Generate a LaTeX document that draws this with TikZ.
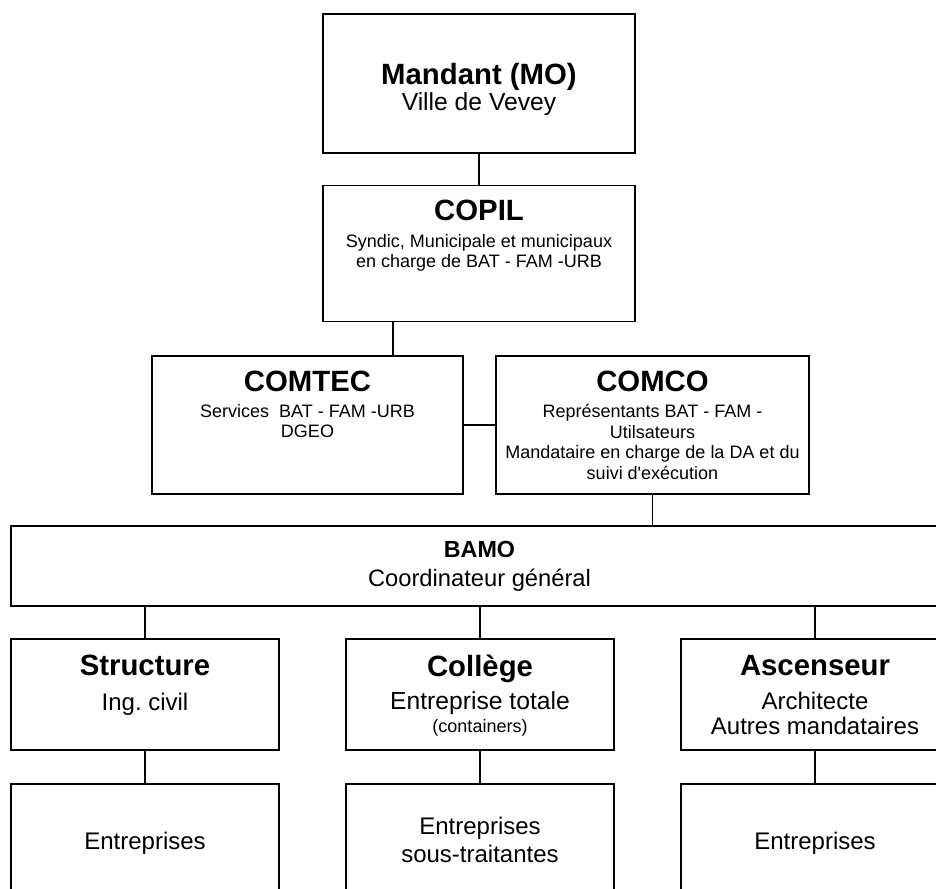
\documentclass[tikz,border=0pt]{standalone}
\usepackage{fontspec}
\setmainfont{Liberation Sans}

\tikzset{
    frame/.style 2 args={draw, line width=1pt, inner sep=0pt, minimum width=#1*0.75pt, minimum height=#2*0.75pt},
    link/.style={line width=0.8pt},
    head/.style={anchor=base, inner sep=0pt, font=\fontsize{22}{26}\selectfont\bfseries},
    bigtext/.style={anchor=north, inner sep=0pt, align=center, font=\fontsize{18}{21.5}\selectfont},
    smalltext/.style={anchor=north, inner sep=0pt, align=center, font=\fontsize{13.5}{15.5}\selectfont},
}

\begin{document}
\begin{tikzpicture}[x=0.75pt,y=0.75pt,yscale=-1,xscale=1]
    \useasboundingbox (0,0) rectangle (936,889);
    \clip (0,0) rectangle (936,889);

    %Shape: Rectangle
    \node [frame={312}{139}] (mandant) at (479,83.5) {};
    %Shape: Rectangle
    \node [frame={312}{136}] (copil) at (479,253.5) {};
    %Shape: Rectangle
    \node [frame={311}{138}] (comtec) at (307.5,425) {};
    %Shape: Rectangle
    \node [frame={313}{138}] (comco) at (652.5,425) {};
    %Shape: Rectangle
    \node [frame={937}{80}] (bamo) at (479.5,566) {};
    %Shape: Rectangle
    \node [frame={268}{111}] (structure) at (145,694.5) {};
    %Shape: Rectangle
    \node [frame={268}{111}] (college) at (480,694.5) {};
    %Shape: Rectangle
    \node [frame={268}{111}] (ascenseur) at (815,694.5) {};
    %Shape: Rectangle
    \node [frame={268}{111}] (structureent) at (145,839.5) {};
    %Shape: Rectangle
    \node [frame={268}{111}] (collegeent) at (480,839.5) {};
    %Shape: Rectangle
    \node [frame={268}{111}] (ascenseurent) at (815,839.5) {};

    %Straight Lines
    \draw [link] (mandant.south) -- (copil.north);
    \draw [link] ([shift={(-86,0)}]copil.south) coordinate (copilfoot) -- (copilfoot |- comtec.north);
    \draw [link] (comtec.east) -- (comco.west);
    \draw [link] (comco.south) -- (comco.south |- bamo.north);
    \draw [link] (structure.north |- bamo.south) -- (structure.north);
    \draw [link] (college.north |- bamo.south) -- (college.north);
    \draw [link] (ascenseur.north |- bamo.south) -- (ascenseur.north);
    \draw [link] (structure.south) -- (structureent.north);
    \draw [link] (college.south) -- (collegeent.north);
    \draw [link] (ascenseur.south) -- (ascenseurent.north);

    % Text Node
    \node [head] (mandanthead) at (479,84) {Mandant (MO)};
    % Text Node
    \node [bigtext, font=\fontsize{18.5}{22}\selectfont] (mandanttext) at (479,92) {Ville de Vevey};
    % Text Node
    \node [head] (copilhead) at (479,220) {COPIL};
    % Text Node
    \node [smalltext] (copiltext) at (479,233.8) {Syndic, Municipale et municipaux\\en charge de BAT - FAM -URB};
    % Text Node
    \node [head] (comtechead) at (307.5,391.7) {COMTEC};
    % Text Node
    \node [smalltext] (comtectext) at (307.5,403.8) {Services\ \ BAT - FAM -URB\\DGEO};
    % Text Node
    \node [head] (comcohead) at (652.5,391.7) {COMCO};
    % Text Node
    \node [smalltext] (comcotext) at (652.5,404) {Représentants BAT - FAM -\\Utilsateurs\\Mandataire en charge de la DA et du\\suivi d\textquotesingle exécution};
    % Text Node
    \node [head, font=\fontsize{17.5}{21}\selectfont\bfseries] (bamohead) at (479.5,557.5) {BAMO};
    % Text Node
    \node [bigtext, font=\fontsize{17.8}{21}\selectfont] (bamotext) at (479.5,568.5) {Coordinateur général};
    % Text Node
    \node [head] (structurehead) at (145,675.7) {Structure};
    % Text Node
    \node [bigtext] (structuretext) at (145,693) {Ing.\ civil};
    % Text Node
    \node [head] (collegehead) at (480,676) {Collège};
    % Text Node
    \node [bigtext, font=\fontsize{18.5}{21.5}\selectfont] (collegetext) at (480,691) {Entreprise totale};
    % Text Node
    \node [smalltext] (collegenote) at (480,719) {(containers)};
    % Text Node
    \node [head] (ascenseurhead) at (815,675) {Ascenseur};
    % Text Node
    \node [bigtext, font=\fontsize{18}{18.75}\selectfont] (ascenseurtext) at (815,692) {Architecte\\Autres mandataires};
    % Text Node
    \node [bigtext] (structureenttext) at (145,831.5) {Entreprises};
    % Text Node
    \node [bigtext] (collegeenttext) at (480,816.5) {Entreprises\\sous-traitantes};
    % Text Node
    \node [bigtext] (ascenseurenttext) at (815,831.5) {Entreprises};
\end{tikzpicture}
\end{document}
